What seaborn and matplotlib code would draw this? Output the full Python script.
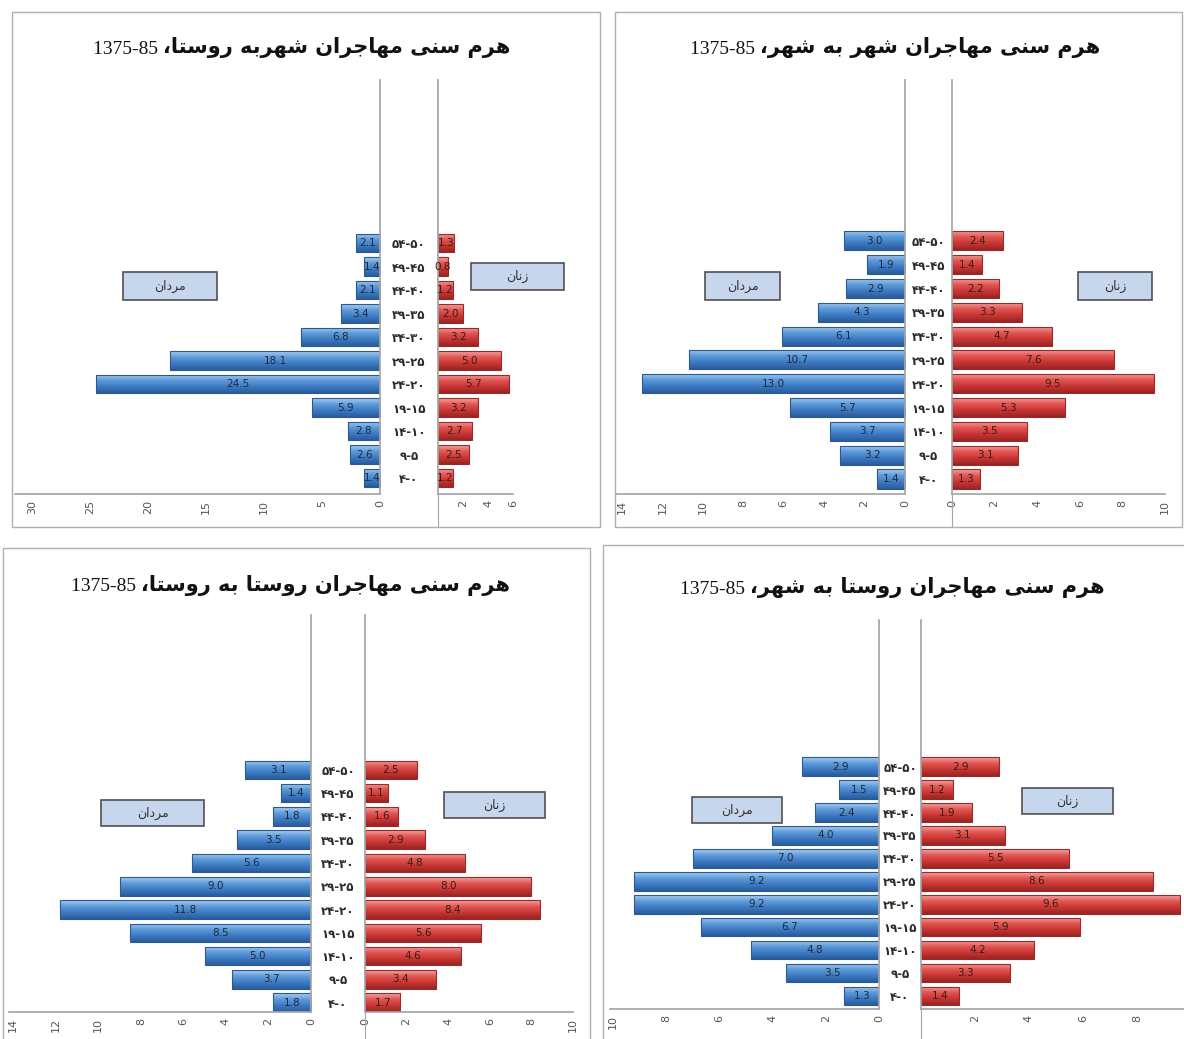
import numpy as np
import pandas as pd
import matplotlib
matplotlib.use("Agg")
import matplotlib.pyplot as plt
import seaborn as sns
from matplotlib.patches import Rectangle
from matplotlib.lines import Line2D
from matplotlib.colors import LinearSegmentedColormap

W, H = 1184, 1039

# age groups top to bottom, Persian digits written in visual (left-to-right) order
ages = ["۵۴-۵۰", "۴۹-۴۵", "۴۴-۴۰", "۳۹-۳۵", "۳۴-۳۰", "۲۹-۲۵",
        "۲۴-۲۰", "۱۹-۱۵", "۱۴-۱۰", "۹-۵", "۴-۰"]

# city -> village
urban_rural_men = [2.1, 1.4, 2.1, 3.4, 6.8, 18.1, 24.5, 5.9, 2.8, 2.6, 1.4]
urban_rural_women = [1.3, 0.8, 1.2, 2.0, 3.2, 5.0, 5.7, 3.2, 2.7, 2.5, 1.2]
# city -> city
urban_urban_men = [3.0, 1.9, 2.9, 4.3, 6.1, 10.7, 13.0, 5.7, 3.7, 3.2, 1.4]
urban_urban_women = [2.4, 1.4, 2.2, 3.3, 4.7, 7.6, 9.5, 5.3, 3.5, 3.1, 1.3]
# village -> village
rural_rural_men = [3.1, 1.4, 1.8, 3.5, 5.6, 9.0, 11.8, 8.5, 5.0, 3.7, 1.8]
rural_rural_women = [2.5, 1.1, 1.6, 2.9, 4.8, 8.0, 8.4, 5.6, 4.6, 3.4, 1.7]
# village -> city
rural_urban_men = [2.9, 1.5, 2.4, 4.0, 7.0, 9.2, 9.2, 6.7, 4.8, 3.5, 1.3]
rural_urban_women = [2.9, 1.2, 1.9, 3.1, 5.5, 8.6, 9.6, 5.9, 4.2, 3.3, 1.4]

titles = [
    "هرم سنی مهاجران شهربه روستا،",
    "هرم سنی مهاجران شهر به شهر،",
    "هرم سنی مهاجران روستا به روستا،",
    "هرم سنی مهاجران روستا به شهر،",
]
period = "1375-85"
men_label = "مردان"
women_label = "زنان"

# matplotlib has no Arabic shaping, so pick presentation forms by hand
FORMS = {  # isolated, final, initial, medial
    "ا": ("\uFE8D", "\uFE8E", None, None),
    "ب": ("\uFE8F", "\uFE90", "\uFE91", "\uFE92"),
    "ت": ("\uFE95", "\uFE96", "\uFE97", "\uFE98"),
    "ج": ("\uFE9D", "\uFE9E", "\uFE9F", "\uFEA0"),
    "د": ("\uFEA9", "\uFEAA", None, None),
    "ر": ("\uFEAD", "\uFEAE", None, None),
    "ز": ("\uFEAF", "\uFEB0", None, None),
    "س": ("\uFEB1", "\uFEB2", "\uFEB3", "\uFEB4"),
    "ش": ("\uFEB5", "\uFEB6", "\uFEB7", "\uFEB8"),
    "م": ("\uFEE1", "\uFEE2", "\uFEE3", "\uFEE4"),
    "ن": ("\uFEE5", "\uFEE6", "\uFEE7", "\uFEE8"),
    "ه": ("\uFEE9", "\uFEEA", "\uFEEB", "\uFEEC"),
    "و": ("\uFEED", "\uFEEE", None, None),
    "ی": ("\uFEEF", "\uFEF0", "\uFEF3", "\uFEF4"),
}


def shape(text):
    out = []
    for i, ch in enumerate(text):
        if ch not in FORMS:
            out.append(ch)
            continue
        prev = text[i - 1] if i > 0 else ""
        nxt = text[i + 1] if i + 1 < len(text) else ""
        join_prev = prev in FORMS and FORMS[prev][2] is not None
        join_next = FORMS[ch][2] is not None and nxt in FORMS
        iso, fin, ini, med = FORMS[ch]
        if join_prev and join_next:
            out.append(med)
        elif join_prev:
            out.append(fin)
        elif join_next:
            out.append(ini)
        else:
            out.append(iso)
    return "".join(reversed(out))


# panel layout in pixels
panels = [
    dict(box=(12, 12, 600, 527), title=(510, 48), top=80, bottom=494,
         lx=(15, 380), lmax=31.5, lticks=range(0, 31, 5),
         rx=(438, 513), rmax=6, rticks=[2, 4, 6], ylim=(10.68, -6.94),
         mbox=(123, 272, 217, 300), wbox=(471, 263, 564, 290)),
    dict(box=(615, 12, 1182, 527), title=(1100, 48), top=80, bottom=494,
         lx=(616, 905), lmax=14.3, lticks=range(0, 15, 2),
         rx=(952, 1165), rmax=10, rticks=range(0, 11, 2), ylim=(10.63, -6.76),
         mbox=(705, 272, 780, 300), wbox=(1078, 272, 1152, 300)),
    dict(box=(3, 548, 590, 1045), title=(510, 585), top=615, bottom=1012,
         lx=(9, 311), lmax=14.2, lticks=range(0, 15, 2),
         rx=(365, 573), rmax=10, rticks=range(0, 11, 2), ylim=(10.4, -6.65),
         mbox=(101, 800, 204, 826), wbox=(444, 792, 545, 818)),
    dict(box=(603, 545, 1190, 1045), title=(1105, 588), top=620, bottom=1009,
         lx=(610, 879), lmax=10.1, lticks=range(0, 11, 2),
         rx=(921, 1184), rmax=9.75, rticks=[2, 4, 6, 8], ylim=(10.56, -6.39),
         mbox=(692, 797, 782, 823), wbox=(1022, 788, 1113, 814)),
]

BLUE = "#3f7fc6"
RED = "#d43d3a"
blue_grad = LinearSegmentedColormap.from_list(
    "b", ["#a8ccf0", "#5e9ad9", "#3c79c2", "#2a5c9b"])
red_grad = LinearSegmentedColormap.from_list(
    "r", ["#f4a3a0", "#e05652", "#c83532", "#962523"])
SPINE = "#a6a6a6"


def fig_axes(fig, x0, x1, y0, y1):
    return fig.add_axes([x0 / W, 1 - y1 / H, (x1 - x0) / W, (y1 - y0) / H])


def fig_rect(fig, x0, y0, x1, y1, **kw):
    fig.add_artist(Rectangle((x0 / W, 1 - y1 / H), (x1 - x0) / W, (y1 - y0) / H,
                             transform=fig.transFigure, **kw))


def gloss(ax, cmap, edge):
    grad = np.linspace(0, 1, 64).reshape(-1, 1)
    for bar in ax.patches:
        x0, y0 = bar.get_x(), bar.get_y()
        w, h = bar.get_width(), bar.get_height()
        im = ax.imshow(grad, extent=[x0, x0 + w, y0 + h, y0], aspect="auto",
                       cmap=cmap, zorder=1.1, interpolation="bilinear")
        im.set_clip_path(bar)
        bar.set_facecolor("none")
        bar.set_edgecolor(edge)
        bar.set_linewidth(0.8)
        bar.set_zorder(1.2)


def style_xaxis(ax, ticks):
    ax.set_xticks(list(ticks))
    ax.set_xticklabels([str(t) for t in ticks], rotation=90)
    ax.tick_params(axis="x", direction="in", length=5, width=0.8, color=SPINE,
                   labelsize=8, labelcolor="#555555", pad=4)
    ax.set_xlabel("")
    ax.set_ylabel("")


def draw_panel(fig, p, men, women, title):
    fig_rect(fig, *p["box"], fill=False, ec="#b0b0b0", lw=1.0)
    df = pd.DataFrame({"age": ages, "men": men, "women": women})

    # men, growing to the left
    axl = fig_axes(fig, p["lx"][0], p["lx"][1], p["top"], p["bottom"])
    sns.barplot(data=df, x="men", y="age", order=ages, color=BLUE,
                orient="h", width=0.8, ax=axl)
    gloss(axl, blue_grad, "#2a5a95")
    axl.bar_label(axl.containers[0], fmt="%.1f", label_type="center",
                  fontsize=7.5, color="#1e2a3a")
    axl.set_xlim(p["lmax"], 0)
    axl.set_ylim(*p["ylim"])
    style_xaxis(axl, p["lticks"])
    axl.yaxis.tick_right()
    gap = (p["rx"][0] - p["lx"][1]) / 2 * 0.72
    axl.tick_params(axis="y", length=0, pad=gap, labelsize=8.5,
                    labelcolor="#2b2b2b")
    for lab in axl.get_yticklabels():
        lab.set_ha("center")
        lab.set_fontweight("bold")
    for side in ["top", "left"]:
        axl.spines[side].set_visible(False)
    for side in ["bottom", "right"]:
        axl.spines[side].set_color(SPINE)
    axl.patch.set_alpha(0)

    # women, growing to the right
    axr = fig_axes(fig, p["rx"][0], p["rx"][1], p["top"], p["bottom"])
    sns.barplot(data=df, x="women", y="age", order=ages, color=RED,
                orient="h", width=0.8, ax=axr)
    gloss(axr, red_grad, "#9a2a2a")
    axr.bar_label(axr.containers[0], fmt="%.1f", label_type="center",
                  fontsize=7.5, color="#3a1a1a")
    axr.set_xlim(0, p["rmax"])
    axr.set_ylim(*p["ylim"])
    style_xaxis(axr, p["rticks"])
    axr.set_yticks([])
    for side in ["top", "right"]:
        axr.spines[side].set_visible(False)
    for side in ["bottom", "left"]:
        axr.spines[side].set_color(SPINE)
    axr.patch.set_alpha(0)
    # the women axis line runs on down to the frame
    fig.add_artist(Line2D([p["rx"][0] / W] * 2,
                          [1 - p["bottom"] / H, 1 - p["box"][3] / H],
                          transform=fig.transFigure, color=SPINE, lw=0.8))

    # boxed legends
    for (x0, y0, x1, y1), lab in [(p["mbox"], men_label), (p["wbox"], women_label)]:
        fig_rect(fig, x0, y0, x1, y1, fc="#c6d6ec", ec="#505050", lw=1.2)
        fig.text((x0 + x1) / 2 / W, 1 - (y0 + y1) / 2 / H, shape(lab),
                 ha="center", va="center", fontsize=9, color="#333333")

    # title: Persian part in bold, period in a plain serif to its left
    t = fig.text(p["title"][0] / W, 1 - p["title"][1] / H, shape(title),
                 ha="right", va="center", fontsize=15, fontweight="bold",
                 color="#111111")
    axl.annotate(period + " ", xy=(0, 0.45), xycoords=t, ha="right",
                 va="center", fontsize=14, family="Liberation Serif",
                 color="#111111", annotation_clip=False)


sns.set_theme(style="white")
plt.rcParams["font.family"] = ["DejaVu Sans"]

fig = plt.figure(figsize=(W / 100, H / 100), dpi=100)
fig.patch.set_facecolor("white")

data = [
    (urban_rural_men, urban_rural_women),
    (urban_urban_men, urban_urban_women),
    (rural_rural_men, rural_rural_women),
    (rural_urban_men, rural_urban_women),
]
for p, (men, women), title in zip(panels, data, titles):
    draw_panel(fig, p, men, women, title)

fig.savefig("out.png", dpi=100, facecolor="white")
